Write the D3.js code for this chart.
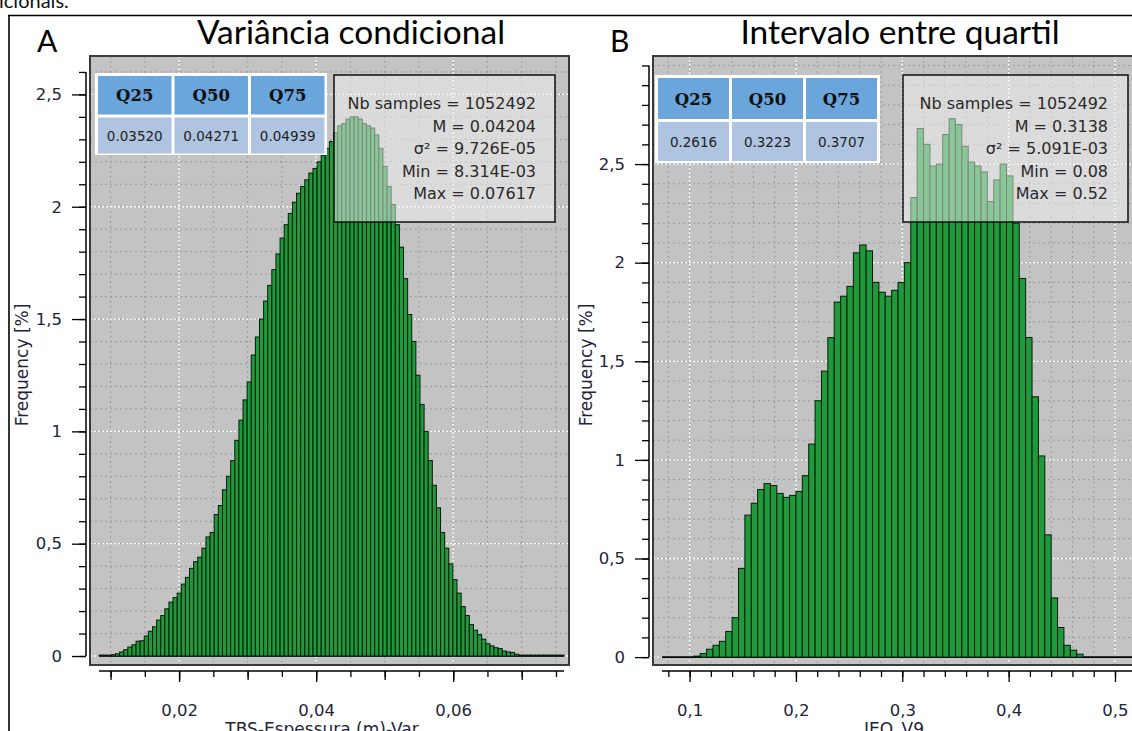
<!DOCTYPE html>
<html>
<head>
<meta charset="utf-8">
<script src="https://cdn.jsdelivr.net/npm/d3@7"></script>
<style>
  body { margin: 0; background: #fff; }
  svg { display: block; }
</style>
</head>
<body>
<svg id="fig" width="1132" height="731"></svg>
<script>
// ---- Variância condicional (TBS-Espessura (m)-Var) ----
const varBinStart = 0.008314;
const varBinWidth = 0.0006005;
const varFreq = [
  0.004, 0.004, 0.004, 0.006, 0.010, 0.018, 0.028, 0.040, 0.050, 0.066,
  0.068, 0.089, 0.110, 0.130, 0.160, 0.180, 0.210, 0.240, 0.260, 0.280,
  0.320, 0.350, 0.390, 0.420, 0.440, 0.480, 0.530, 0.550, 0.630, 0.670,
  0.740, 0.800, 0.870, 0.960, 1.050, 1.140, 1.220, 1.340, 1.420, 1.500,
  1.580, 1.650, 1.720, 1.790, 1.860, 1.920, 1.970, 2.020, 2.060, 2.090,
  2.120, 2.150, 2.170, 2.200, 2.230, 2.260, 2.290, 2.330, 2.360, 2.370,
  2.390, 2.400, 2.400, 2.390, 2.370, 2.360, 2.350, 2.320, 2.260, 2.180,
  2.090, 2.010, 1.920, 1.820, 1.680, 1.520, 1.400, 1.250, 1.120, 1.000,
  0.870, 0.760, 0.660, 0.550, 0.480, 0.410, 0.340, 0.280, 0.220, 0.180,
  0.140, 0.115, 0.095, 0.075, 0.055, 0.045, 0.037, 0.033, 0.022, 0.018,
  0.016, 0.008, 0.004, 0.004, 0.004, 0.004, 0.004, 0.004, 0.004, 0.004,
  0.004, 0.004, 0.004
];
const varXTicksMajor = [0.02, 0.04, 0.06];
const varYTicksMajor = [0, 0.5, 1, 1.5, 2, 2.5];
const varQuantiles = ["0.03520", "0.04271", "0.04939"];
const varStats = ["Nb samples = 1052492", "M = 0.04204", "σ² = 9.726E-05", "Min = 8.314E-03", "Max = 0.07617"];

// ---- Intervalo entre quartil (IEQ_V9) ----
const ieqBinStart = 0.074;
const ieqBinWidth = 0.006;
const ieqFreq = [
  0, 0, 0, 0, 0, 0.005, 0.018, 0.040, 0.060, 0.080,
  0.130, 0.200, 0.450, 0.720, 0.780, 0.850, 0.880, 0.870, 0.830, 0.810,
  0.820, 0.840, 0.920, 1.080, 1.300, 1.450, 1.620, 1.800, 1.830, 1.880,
  2.050, 2.090, 2.060, 1.900, 1.850, 1.830, 1.860, 1.900, 2.000, 2.330,
  2.680, 2.600, 2.490, 2.500, 2.650, 2.730, 2.700, 2.590, 2.510, 2.490,
  2.460, 2.310, 2.420, 2.500, 2.440, 2.200, 1.920, 1.620, 1.320, 1.020,
  0.620, 0.300, 0.150, 0.060, 0.035, 0.015, 0, 0, 0, 0,
  0, 0, 0, 0, 0
];
const ieqXTicksMajor = [0.1, 0.2, 0.3, 0.4, 0.5];
const ieqYTicksMajor = [0, 0.5, 1, 1.5, 2, 2.5];
const ieqQuantiles = ["0.2616", "0.3223", "0.3707"];
const ieqStats = ["Nb samples = 1052492", "M = 0.3138", "σ² = 5.091E-03", "Min = 0.08", "Max = 0.52"];

const quantileNames = ["Q25", "Q50", "Q75"];

// ---------------------------------------------------------------
const svg = d3.select("#fig");
const ptBR = d3.formatLocale({ decimal: ",", thousands: ".", grouping: [3], currency: ["", ""] });
const TICK_FONT = "DejaVu Sans, Verdana, sans-serif";
const TEXT_COL = "#23233a";
const TICK_SIZE = 16.5;

// page frame and the tail of the preceding paragraph
svg.append("text").attr("x", -1).attr("y", 8)
  .attr("font-family", "Lato, sans-serif").attr("font-size", 20).attr("fill", "#111")
  .text("icionais.");
svg.append("line").attr("x1", 8).attr("x2", 1132).attr("y1", 15.5).attr("y2", 15.5)
  .attr("stroke", "#000").attr("stroke-width", 1.6);
svg.append("line").attr("x1", 9).attr("x2", 9).attr("y1", 15).attr("y2", 731)
  .attr("stroke", "#000").attr("stroke-width", 1.6);

function range(a, b, step) {
  const out = [];
  const n = Math.round((b - a) / step);
  for (let i = 0; i <= n; i++) out.push(+(a + i * step).toFixed(6));
  return out;
}

function drawPanel(o) {
  const g = svg.append("g");
  const x = d3.scaleLinear().domain(o.xDomain).range([o.left, o.right]);
  const y = d3.scaleLinear().domain(o.yDomain).range([o.bottom, o.top]);

  // letter + title
  g.append("text").attr("x", o.letterX).attr("y", 52)
    .attr("font-family", "Lato, sans-serif").attr("font-size", 30).attr("fill", "#000")
    .text(o.letter);
  g.append("text").attr("x", o.titleX).attr("y", 44).attr("text-anchor", "middle")
    .attr("font-family", "Lato, sans-serif").attr("font-size", 33.5).attr("fill", "#000")
    .text(o.title);

  const clipId = "clip-" + o.letter;
  g.append("clipPath").attr("id", clipId).append("rect")
    .attr("x", o.left).attr("y", o.top).attr("width", o.right - o.left).attr("height", o.bottom - o.top);

  // plot background
  g.append("rect").attr("x", o.left).attr("y", o.top)
    .attr("width", o.right - o.left).attr("height", o.bottom - o.top)
    .attr("fill", "#c3c3c3");

  const plot = g.append("g").attr("clip-path", `url(#${clipId})`);

  // grid: minor grey dots, major white dots
  plot.selectAll(".vminor").data(o.xMinor).join("line")
    .attr("x1", d => x(d)).attr("x2", d => x(d)).attr("y1", o.top).attr("y2", o.bottom)
    .attr("stroke", "#9c9c9c").attr("stroke-width", 1).attr("stroke-dasharray", "2,3");
  plot.selectAll(".hminor").data(o.yMinor).join("line")
    .attr("y1", d => y(d)).attr("y2", d => y(d)).attr("x1", o.left).attr("x2", o.right)
    .attr("stroke", "#9c9c9c").attr("stroke-width", 1).attr("stroke-dasharray", "2,3");
  plot.selectAll(".vmajor").data(o.xMajor).join("line")
    .attr("x1", d => x(d)).attr("x2", d => x(d)).attr("y1", o.top).attr("y2", o.bottom)
    .attr("stroke", "#fff").attr("stroke-width", 1.3).attr("stroke-dasharray", "2,2");
  plot.selectAll(".hmajor").data(o.yMajor).join("line")
    .attr("y1", d => y(d)).attr("y2", d => y(d)).attr("x1", o.left).attr("x2", o.right)
    .attr("stroke", "#fff").attr("stroke-width", 1.3).attr("stroke-dasharray", "2,2");

  // histogram bars
  const bins = o.freq.map((f, i) => ({ x0: o.binStart + i * o.binWidth, x1: o.binStart + (i + 1) * o.binWidth, f }));
  plot.append("line")
    .attr("x1", x(bins[0].x0)).attr("x2", x(bins[bins.length - 1].x1))
    .attr("y1", y(0)).attr("y2", y(0)).attr("stroke", "#000").attr("stroke-width", 1.6);
  plot.selectAll(".bar").data(bins.filter(b => b.f > 0)).join("rect")
    .attr("x", d => x(d.x0)).attr("width", d => x(d.x1) - x(d.x0))
    .attr("y", d => y(d.f)).attr("height", d => y(0) - y(d.f))
    .attr("fill", "#1f9a3b").attr("stroke", "#071a0b").attr("stroke-width", 1);

  // plot frame
  g.append("rect").attr("x", o.left).attr("y", o.top)
    .attr("width", o.right - o.left).attr("height", o.bottom - o.top)
    .attr("fill", "none").attr("stroke", "#3a3a3a").attr("stroke-width", 2);

  // y axis
  const yAxisG = g.append("g").attr("transform", `translate(${o.left - 4},0)`);
  yAxisG.append("g").call(d3.axisLeft(y).tickValues(o.yMinorTicks).tickSize(7).tickFormat(""))
    .call(s => s.select(".domain").remove());
  yAxisG.append("g").call(d3.axisLeft(y).tickValues(o.yMajor).tickSize(14).tickPadding(10)
      .tickFormat(ptBR.format(".1~f")))
    .call(s => s.select(".domain").remove())
    .call(s => s.selectAll("text").attr("font-family", TICK_FONT).attr("font-size", TICK_SIZE).attr("fill", TEXT_COL));
  yAxisG.append("line").attr("x1", 0).attr("x2", 0)
    .attr("y1", y(0)).attr("y2", y(o.yAxisTop)).attr("stroke", "#000").attr("stroke-width", 1.5);
  yAxisG.selectAll(".tick line").attr("stroke", "#000").attr("stroke-width", 1.3);

  // x axis
  const xAxisG = g.append("g").attr("transform", `translate(0,${o.bottom + 6})`);
  o.xTickLevels.forEach(lv => {
    xAxisG.append("g").call(d3.axisBottom(x).tickValues(lv.values).tickSize(lv.size).tickFormat(""))
      .call(s => s.select(".domain").remove());
  });
  xAxisG.append("g").call(d3.axisBottom(x).tickValues(o.xMajor).tickSize(o.xMajorSize).tickPadding(22)
      .tickFormat(ptBR.format(o.xFormat)))
    .call(s => s.select(".domain").remove())
    .call(s => s.selectAll("text").attr("font-family", TICK_FONT).attr("font-size", TICK_SIZE).attr("fill", TEXT_COL));
  xAxisG.append("line").attr("y1", 0).attr("y2", 0)
    .attr("x1", x(o.xAxisFrom)).attr("x2", x(o.xAxisTo)).attr("stroke", "#000").attr("stroke-width", 1.5);
  xAxisG.selectAll(".tick line").attr("stroke", "#000").attr("stroke-width", 1.3);

  // axis titles
  g.append("text").attr("transform", `translate(${o.yTitleX},365) rotate(-90)`).attr("text-anchor", "middle")
    .attr("font-family", TICK_FONT).attr("font-size", 17).attr("fill", TEXT_COL).text("Frequency [%]");
  g.append("text").attr("x", o.xTitleX).attr("y", 735).attr("text-anchor", "middle")
    .attr("font-family", TICK_FONT).attr("font-size", 17).attr("fill", TEXT_COL).text(o.xTitle);

  // quantile table
  const t = o.table;
  g.append("rect").attr("x", t.x).attr("y", t.y).attr("width", t.w).attr("height", t.h).attr("fill", "#fff");
  quantileNames.forEach((q, i) => {
    const cx = t.x + t.pad + i * (t.cw + t.gap);
    g.append("rect").attr("x", cx).attr("y", t.y + t.pad).attr("width", t.cw).attr("height", t.hh).attr("fill", "#6aa5db");
    g.append("rect").attr("x", cx).attr("y", t.y + t.pad + t.hh + t.gap).attr("width", t.cw).attr("height", t.vh).attr("fill", "#afc4e1");
    g.append("text").attr("x", cx + t.cw / 2).attr("y", t.y + t.pad + t.hh / 2 + 6).attr("text-anchor", "middle")
      .attr("font-family", "DejaVu Serif, serif").attr("font-weight", "bold").attr("font-size", 16.5).attr("fill", "#111")
      .text(q);
    g.append("text").attr("x", cx + t.cw / 2).attr("y", t.y + t.pad + t.hh + t.gap + t.vh / 2 + 5).attr("text-anchor", "middle")
      .attr("font-family", TICK_FONT).attr("font-size", 13.5).attr("fill", "#222")
      .text(o.quantiles[i]);
  });

  // statistics box
  const b = o.statBox;
  g.append("rect").attr("x", b.x).attr("y", b.y).attr("width", b.w).attr("height", b.h)
    .attr("fill", "#f4f4f4").attr("fill-opacity", 0.5).attr("stroke", "#111").attr("stroke-width", 1.5);
  o.stats.forEach((s, i) => {
    g.append("text").attr("x", b.textRight).attr("y", b.y + 34 + i * 22.5).attr("text-anchor", "end")
      .attr("font-family", TICK_FONT).attr("font-size", 16).attr("fill", "#2a2a2a").text(s);
  });
}

drawPanel({
  letter: "A", letterX: 37, title: "Variância condicional", titleX: 351,
  left: 90, right: 569, top: 56, bottom: 665,
  xDomain: [0.0070, 0.0769], yDomain: [-0.040, 2.671],
  binStart: varBinStart, binWidth: varBinWidth, freq: varFreq,
  xMajor: varXTicksMajor, xMinor: range(0.01, 0.075, 0.005),
  yMajor: varYTicksMajor, yMinor: range(0.1, 2.6, 0.1), yMinorTicks: range(0, 2.6, 0.1), yAxisTop: 2.6,
  xTickLevels: [
    { values: range(0.01, 0.075, 0.005), size: 6 },
    { values: range(0.01, 0.07, 0.01), size: 9 }
  ],
  xMajorSize: 11, xFormat: ".2~f",
  xAxisFrom: varBinStart, xAxisTo: varBinStart + varFreq.length * varBinWidth,
  yTitleX: 28, xTitle: "TBS-Espessura (m)-Var", xTitleX: 322,
  table: { x: 95, y: 73, w: 232, h: 82, pad: 3, cw: 73.5, gap: 3, hh: 38.5, vh: 36 },
  quantiles: varQuantiles,
  statBox: { x: 334, y: 75, w: 221, h: 147, textRight: 536 },
  stats: varStats
});

drawPanel({
  letter: "B", letterX: 610, title: "Intervalo entre quartil", titleX: 900,
  left: 653, right: 1142, top: 56, bottom: 665,
  xDomain: [0.0656, 0.5254], yDomain: [-0.04, 3.048],
  binStart: ieqBinStart, binWidth: ieqBinWidth, freq: ieqFreq,
  xMajor: ieqXTicksMajor, xMinor: range(0.08, 0.52, 0.02),
  yMajor: ieqYTicksMajor, yMinor: range(0.1, 3.0, 0.1), yMinorTicks: range(0, 3.0, 0.1), yAxisTop: 3.0,
  xTickLevels: [
    { values: range(0.08, 0.52, 0.02), size: 6 }
  ],
  xMajorSize: 11, xFormat: ".1~f",
  xAxisFrom: ieqBinStart, xAxisTo: ieqBinStart + ieqFreq.length * ieqBinWidth,
  yTitleX: 592, xTitle: "IEQ_V9", xTitleX: 894,
  table: { x: 655, y: 75, w: 225, h: 88, pad: 3, cw: 71, gap: 3, hh: 41, vh: 39 },
  quantiles: ieqQuantiles,
  statBox: { x: 903, y: 75, w: 225, h: 147, textRight: 1108 },
  stats: ieqStats
});
</script>
</body>
</html>
